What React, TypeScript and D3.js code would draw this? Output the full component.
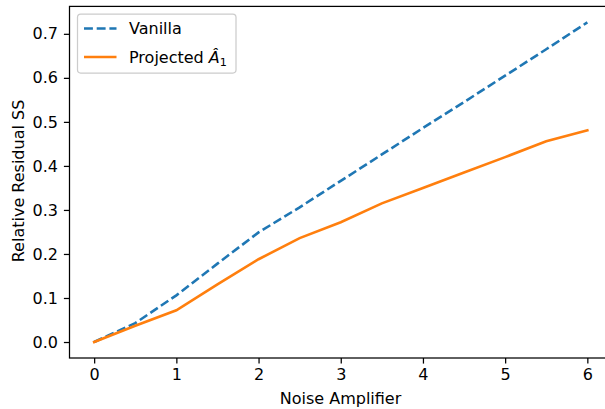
import React, { useRef, useEffect } from "react";
import * as d3 from "d3";

const noiseLevels = [0, 0.5, 1, 1.5, 2, 2.5, 3, 3.5, 4, 4.5, 5, 5.5, 6];
const vanilla = [0, 0.043, 0.106, 0.178, 0.249, 0.306, 0.366, 0.426, 0.486, 0.545, 0.605, 0.665, 0.726];
const projected = [0, 0.037, 0.072, 0.131, 0.188, 0.236, 0.272, 0.315, 0.35, 0.385, 0.42, 0.456, 0.481];
const xTicks = [0, 1, 2, 3, 4, 5, 6];
const yTicks = [0, 0.1, 0.2, 0.3, 0.4, 0.5, 0.6, 0.7];

const width = 605;
const height = 409;
const margin = { top: 6.4, left: 69.5, bottom: 51, right: -7 };
const font = "DejaVu Sans, sans-serif";
const fs = 16;
const lw = 2.6;
const dash = "8.9,3.8";

function LineChart() {
  const svgRef = useRef<SVGSVGElement>(null);

  useEffect(() => {
    const svg = d3.select(svgRef.current);
    svg.selectAll("*").remove();

    const x = d3
      .scaleLinear()
      .domain([-0.3, 6.3])
      .range([margin.left, width - margin.right]);
    const y = d3
      .scaleLinear()
      .domain([-0.0363, 0.7623])
      .range([height - margin.bottom, margin.top]);

    const line = d3
      .line<number>()
      .x((d, i) => x(noiseLevels[i]))
      .y(d => y(d));

    // lines
    svg
      .append("path")
      .datum(vanilla)
      .attr("d", line)
      .attr("fill", "none")
      .attr("stroke", "#1f77b4")
      .attr("stroke-width", lw)
      .attr("stroke-dasharray", dash);
    svg
      .append("path")
      .datum(projected)
      .attr("d", line)
      .attr("fill", "none")
      .attr("stroke", "#ff7f0e")
      .attr("stroke-width", lw)
      .attr("stroke-linecap", "square");

    // spines
    const [x0, x1] = x.range();
    const [yb, yt] = y.range();
    svg
      .append("rect")
      .attr("x", x0)
      .attr("y", yt)
      .attr("width", x1 - x0)
      .attr("height", yb - yt)
      .attr("fill", "none")
      .attr("stroke", "black")
      .attr("stroke-width", 1.25);

    // x axis
    const xAxis = d3
      .axisBottom(x)
      .tickValues(xTicks)
      .tickSize(5.6)
      .tickPadding(5)
      .tickFormat(d3.format("d"));
    const gx = svg.append("g").attr("transform", `translate(0,${yb})`).call(xAxis);
    gx.select(".domain").remove();
    gx.selectAll("line").attr("stroke-width", 1.25);
    gx.selectAll("text").attr("font-family", font).attr("font-size", fs).attr("fill", "black");

    // y axis
    const yAxis = d3
      .axisLeft(y)
      .tickValues(yTicks)
      .tickSize(5.6)
      .tickPadding(6)
      .tickFormat(d3.format(".1f"));
    const gy = svg.append("g").attr("transform", `translate(${x0},0)`).call(yAxis);
    gy.select(".domain").remove();
    gy.selectAll("line").attr("stroke-width", 1.25);
    gy.selectAll("text").attr("font-family", font).attr("font-size", fs).attr("fill", "black");

    // axis labels
    svg
      .append("text")
      .attr("x", 340.5)
      .attr("y", 404)
      .attr("text-anchor", "middle")
      .attr("font-family", font)
      .attr("font-size", fs)
      .text("Noise Amplifier");
    svg
      .append("text")
      .attr("transform", `translate(24,181) rotate(-90)`)
      .attr("text-anchor", "middle")
      .attr("font-family", font)
      .attr("font-size", fs)
      .text("Relative Residual SS");

    // legend
    const lg = svg.append("g");
    lg.append("rect")
      .attr("x", 77.5)
      .attr("y", 14)
      .attr("width", 158.5)
      .attr("height", 59)
      .attr("rx", 3.2)
      .attr("fill", "white")
      .attr("fill-opacity", 0.8)
      .attr("stroke", "#cccccc")
      .attr("stroke-width", 1.25);
    const items = [
      { color: "#1f77b4", dash: dash, y: 28.5 },
      { color: "#ff7f0e", dash: null, y: 57 },
    ];
    items.forEach(it => {
      lg.append("line")
        .attr("x1", 84)
        .attr("x2", 116.5)
        .attr("y1", it.y)
        .attr("y2", it.y)
        .attr("stroke", it.color)
        .attr("stroke-width", lw)
        .attr("stroke-dasharray", it.dash);
    });
    lg.append("text")
      .attr("x", 129)
      .attr("y", 34)
      .attr("font-family", font)
      .attr("font-size", fs)
      .text("Vanilla");
    const t = lg
      .append("text")
      .attr("x", 129)
      .attr("y", 62.5)
      .attr("font-family", font)
      .attr("font-size", fs);
    t.append("tspan").text("Projected ");
    t.append("tspan").attr("font-style", "italic").text("\u00C2");
    t.append("tspan").attr("font-size", 11.2).attr("dy", 3).text("1");
  }, []);

  return <svg ref={svgRef} width={width} height={height} style={{ display: "block", overflow: "hidden" }}></svg>;
}

export default function App() {
  return (
    <div style={{ position: "fixed", left: 0, top: 0, width: width, height: height, overflow: "hidden", background: "white" }}>
      <LineChart />
    </div>
  );
}
